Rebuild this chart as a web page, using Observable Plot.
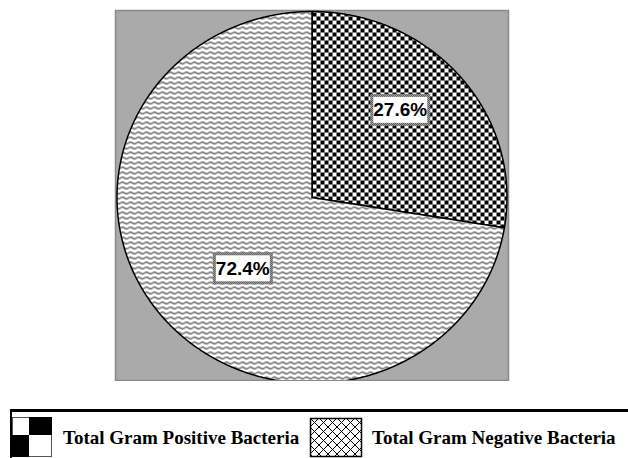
<!DOCTYPE html>
<html><head><meta charset="utf-8">
<script src="https://cdn.jsdelivr.net/npm/d3@7"></script>
<script src="https://cdn.jsdelivr.net/npm/@observablehq/plot@0.6"></script>
<style>
body{margin:0;background:#fff}
#wrap{position:relative;width:628px;height:458px;overflow:hidden}
#wrap svg{position:absolute;left:0;top:0}
</style>
</head><body><div id="wrap"></div>
<script>
// ---- data ----
const categories = ["Total Gram Positive Bacteria", "Total Gram Negative Bacteria"];
const values = [27.6, 72.4];
const sliceLabels = ["27.6%", "72.4%"];
const legendLabels = ["Total Gram Positive Bacteria", "Total Gram Negative Bacteria"];

// ---- styles ----
const slicePatterns = ["url(#checker)", "url(#wave)"];
const labelOffsets = [[-1, -15], [20, -1]];

const arcs = d3.pie().sort(null).value(d => d.value)(
  categories.map((c, i) => ({category: c, value: values[i], label: sliceLabels[i]}))
);
const step = Math.PI / 720;
const slices = arcs.map(a => {
  const pts = [{x: 0, y: 0}];
  for (let t = a.startAngle; t < a.endAngle; t += step) pts.push({x: Math.sin(t), y: Math.cos(t)});
  pts.push({x: Math.sin(a.endAngle), y: Math.cos(a.endAngle)});
  pts.push({x: 0, y: 0});
  return pts;
});
const labelPts = arcs.map(a => {
  const m = (a.startAngle + a.endAngle) / 2;
  return {x: 0.6 * Math.sin(m), y: 0.6 * Math.cos(m), text: a.data.label};
});

const chart = Plot.plot({
  width: 628, height: 381,
  marginLeft: 115, marginRight: 120, marginTop: 10, marginBottom: 1,
  x: {domain: [-1, 1], range: [116.5, 506.5], axis: null},
  y: {domain: [-1, 1], range: [383, 11], axis: null},
  marks: [
    Plot.frame({fill: "#aaaaaa", stroke: "#8a8a8a", strokeWidth: 1.5}),
    ...slices.map((s, i) => Plot.line(s, {x: "x", y: "y", fill: slicePatterns[i], stroke: "black", strokeWidth: 1.5, clip: "frame", curve: "linear"})),
    ...labelPts.map((p, i) => Plot.text([p], {x: "x", y: "y", text: "text", dx: labelOffsets[i][0], dy: labelOffsets[i][1],
      fill: "black", fontSize: 19, fontWeight: "bold", fontFamily: "Liberation Sans, Arial, sans-serif", className: "plabel"}))
  ]
});
document.getElementById("wrap").appendChild(chart);

const defs = d3.select(chart).insert("defs", ":first-child");
const ck = defs.append("pattern").attr("id", "checker").attr("patternUnits", "userSpaceOnUse")
  .attr("width", 8).attr("height", 8).attr("x", 312).attr("y", 12);
ck.append("rect").attr("width", 8).attr("height", 8).attr("fill", "white");
ck.append("rect").attr("width", 4).attr("height", 4).attr("fill", "black");
ck.append("rect").attr("x", 4).attr("y", 4).attr("width", 4).attr("height", 4).attr("fill", "black");
const wv = defs.append("pattern").attr("id", "wave").attr("patternUnits", "userSpaceOnUse")
  .attr("width", 8).attr("height", 5);
wv.append("rect").attr("width", 8).attr("height", 5).attr("fill", "white");
wv.append("path").attr("d", "M0,2.5 Q2,0.6 4,2.5 T8,2.5").attr("fill", "none").attr("stroke", "#4a4a4a").attr("stroke-width", 1.1);
const fn = defs.append("pattern").attr("id", "fine").attr("patternUnits", "userSpaceOnUse")
  .attr("width", 2).attr("height", 2);
fn.append("rect").attr("width", 2).attr("height", 2).attr("fill", "white");
fn.append("rect").attr("width", 1).attr("height", 1).attr("fill", "black");
fn.append("rect").attr("x", 1).attr("y", 1).attr("width", 1).attr("height", 1).attr("fill", "black");

// label boxes
chart.querySelectorAll("g.plabel text, .plabel text").forEach(t => {
  const b = t.getBBox();
  const cy = b.y + b.height / 2;
  const r = document.createElementNS("http://www.w3.org/2000/svg", "rect");
  r.setAttribute("x", b.x - 1.5);
  r.setAttribute("width", b.width + 3);
  r.setAttribute("y", cy - 14.5);
  r.setAttribute("height", 29);
  r.setAttribute("fill", "white");
  r.setAttribute("stroke", "url(#fine)");
  r.setAttribute("stroke-width", 3);
  if (t.getAttribute("transform")) r.setAttribute("transform", t.getAttribute("transform"));
  t.parentNode.insertBefore(r, t);
});

// ---- legend ----
const lg = d3.select("#wrap").append("svg").attr("width", 628).attr("height", 458);
const ld = lg.append("defs");
const ch = ld.append("pattern").attr("id", "cross").attr("patternUnits", "userSpaceOnUse")
  .attr("width", 9).attr("height", 9).attr("x", 310).attr("y", 418);
ch.append("rect").attr("width", 9).attr("height", 9).attr("fill", "white");
ch.append("path").attr("d", "M0,0L9,9M9,0L0,9").attr("stroke", "black").attr("stroke-width", 1);
lg.append("line").attr("x1", 10).attr("x2", 628).attr("y1", 410.5).attr("y2", 410.5).attr("stroke", "black").attr("stroke-width", 3);
lg.append("line").attr("x1", 11).attr("x2", 11).attr("y1", 409).attr("y2", 458).attr("stroke", "black").attr("stroke-width", 2);
const i1 = lg.append("g");
i1.append("rect").attr("x", 12.5).attr("y", 417.5).attr("width", 39).attr("height", 39).attr("fill", "white").attr("stroke", "#555").attr("stroke-width", 1);
i1.append("rect").attr("x", 29).attr("y", 417).attr("width", 23).attr("height", 18).attr("fill", "black");
i1.append("rect").attr("x", 12).attr("y", 435).attr("width", 17).attr("height", 22).attr("fill", "black");
lg.append("rect").attr("x", 310.5).attr("y", 418.5).attr("width", 51).attr("height", 38).attr("fill", "url(#cross)").attr("stroke", "black").attr("stroke-width", 1.5);
const textX = [63, 372];
legendLabels.forEach((l, i) => {
  lg.append("text").attr("x", textX[i]).attr("y", 444).text(l)
    .attr("font-family", "Liberation Serif, Times New Roman, serif").attr("font-weight", "bold").attr("font-size", 19).attr("fill", "black");
});
</script>
</body></html>
